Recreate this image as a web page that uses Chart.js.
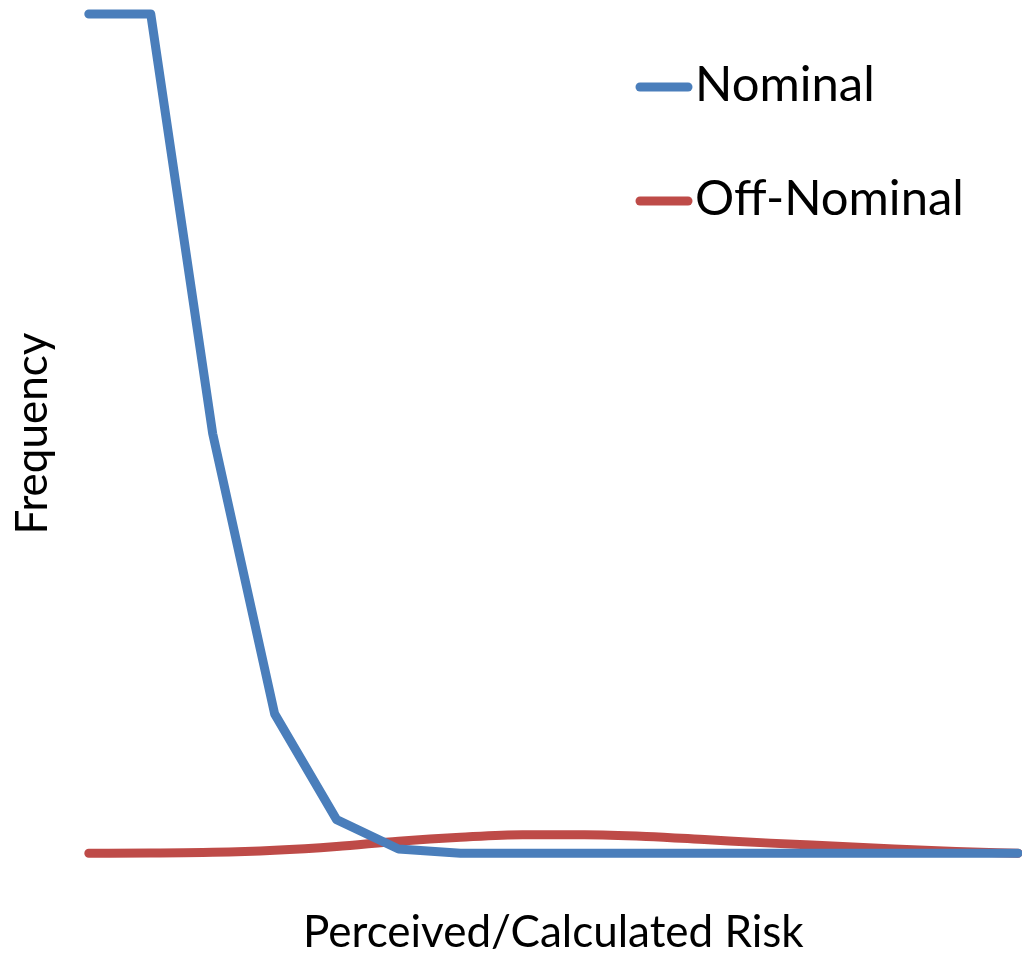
<!DOCTYPE html>
<html>
<head>
<meta charset="utf-8">
<script src="https://cdn.jsdelivr.net/npm/chart.js@4"></script>
<style>
  html, body { margin: 0; padding: 0; background: #fff; }
  #wrap { width: 1022px; height: 959px; }
</style>
</head>
<body>
<div id="wrap"><canvas id="chart"></canvas></div>
<script>
"use strict";

// 16 bins along the risk axis, no tick labels shown
const riskBins = ["1", "2", "3", "4", "5", "6", "7", "8", "9", "10", "11", "12", "13", "14", "15", "16"];
const nominal = [100, 100, 50, 16.6, 4, 0.5, 0, 0, 0, 0, 0, 0, 0, 0, 0, 0];
const offNominal = [0, 0.02, 0.1, 0.35, 0.8, 1.43, 1.9, 2.2, 2.2, 2.0, 1.6, 1.2, 0.85, 0.5, 0.2, 0];
const seriesNames = ["Nominal", "Off-Nominal"];

const fontFamily = "Lato, 'Open Sans', sans-serif";

// legend drawn in the upper right, sample line then label
const cornerLegend = {
  id: "cornerLegend",
  afterDraw(chart) {
    const ctx = chart.ctx;
    ctx.save();
    ctx.font = "49px " + fontFamily;
    ctx.textBaseline = "alphabetic";
    ctx.fillStyle = "#000";
    chart.data.datasets.forEach(function (ds, i) {
      const y = 87 + i * 114;
      ctx.strokeStyle = ds.borderColor;
      ctx.lineWidth = 9;
      ctx.lineCap = "round";
      ctx.beginPath();
      ctx.moveTo(640, y);
      ctx.lineTo(688, y);
      ctx.stroke();
      ctx.fillText(ds.label, 695, y + 14);
    });
    ctx.restore();
  }
};

const ctx = document.getElementById("chart").getContext("2d");
new Chart(ctx, {
  type: "line",
  data: {
    labels: riskBins,
    datasets: [
      {
        label: seriesNames[0],
        data: nominal,
        borderColor: "#4A7EBB",
        borderWidth: 9,
        pointRadius: 0,
        tension: 0,
        clip: false,
        borderCapStyle: "round",
        borderJoinStyle: "round"
      },
      {
        label: seriesNames[1],
        data: offNominal,
        borderColor: "#BE4B48",
        borderWidth: 9,
        pointRadius: 0,
        cubicInterpolationMode: "monotone",
        clip: false,
        borderCapStyle: "round",
        borderJoinStyle: "round"
      }
    ]
  },
  options: {
    responsive: true,
    maintainAspectRatio: false,
    animation: false,
    layout: { padding: { left: 0, right: 4, top: 14, bottom: 0 } },
    plugins: {
      legend: { display: false },
      tooltip: { enabled: false }
    },
    scales: {
      x: {
        offset: false,
        grid: { display: false },
        border: { display: false },
        ticks: { display: false },
        title: {
          display: true,
          text: "Perceived/Calculated Risk",
          color: "#000",
          font: { family: fontFamily, size: 44 },
          padding: { top: 45, bottom: 0 }
        }
      },
      y: {
        min: 0,
        max: 100,
        grid: { display: false },
        border: { display: false },
        ticks: { display: false },
        title: {
          display: true,
          text: "Frequency",
          color: "#000",
          font: { family: fontFamily, size: 44 },
          padding: { top: 6, bottom: 22 }
        }
      }
    }
  },
  plugins: [cornerLegend]
});
</script>
</body>
</html>
